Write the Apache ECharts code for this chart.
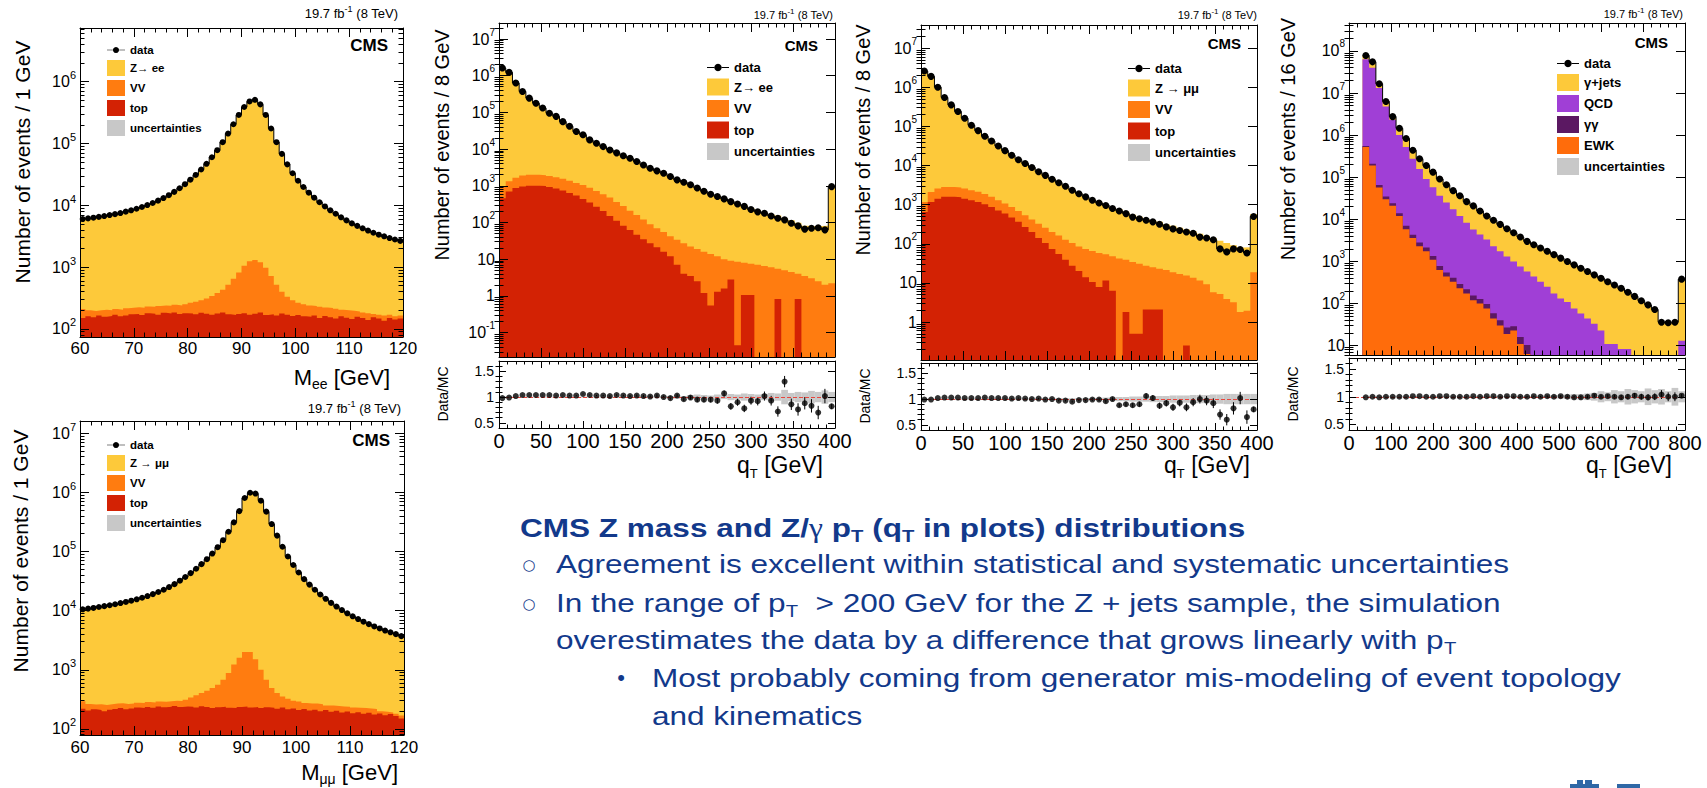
<!DOCTYPE html>
<html>
<head>
<meta charset="utf-8">
<title>CMS Z mass and Z/γ pT distributions</title>
<script src="https://cdn.jsdelivr.net/npm/echarts@6.0.0/dist/echarts.min.js"></script>
<style>
html,body{margin:0;padding:0;background:#ffffff;overflow:hidden;}
#chart{width:1707px;height:788px;}
</style>
</head>
<body>
<div id="chart"></div>
<script>
// ================= DATA =================
// Binning
const MASS_LOW = 60, MASS_W = 1;     // M_ll plots: 60 bins of 1 GeV
const QT_LOW = 0, QT_W = 8;          // q_T (Z) plots: 50 bins of 8 GeV
const QG_LOW = 32, QG_W = 16;        // q_T (photon) plot: 48 bins of 16 GeV

// Tick labels (powers of ten shown on the log axes) and ratio ticks
const yExpMee = [2,3,4,5,6];
const yExpMmm = [2,3,4,5,6,7];
const yExpQee = [-1,0,1,2,3,4,5,6,7];
const yExpQmm = [0,1,2,3,4,5,6,7];
const yExpQg  = [1,2,3,4,5,6,7,8];
const ratioTicks = [0.5, 1, 1.5];
const ratioMinorTicks = [0.6,0.7,0.8,0.9,1.1,1.2,1.3,1.4,1.6];

// --- M_ee ---
const mee_data = [6000,6150,6300,6500,6700,6950,7200,7500,7900,8300,
 8800,9400,10100,10900,11900,13100,14600,16500,18900,22000,
 26000,31000,38000,47000,60000,78000,105000,145000,205000,290000,
 390000,480000,510000,430000,290000,175000,105000,68000,46000,33000,
 25000,19800,16000,13300,11200,9600,8300,7300,6400,5700,
 5100,4650,4250,3900,3600,3350,3150,2950,2800,2650];
const mee_zee = [5800,5950,6100,6300,6500,6750,7000,7300,7700,8100,
 8600,9200,9900,10700,11700,12900,14400,16300,18700,21800,
 25800,30800,37700,46800,59800,77500,104500,145000,206000,292000,
 395000,488000,515000,432000,292000,176000,106000,68500,46300,33000,
 24900,19700,15900,13200,11100,9500,8200,7200,6300,5600,
 5000,4550,4150,3800,3500,3250,3050,2850,2700,2550];
const mee_vv = [60,40,40,35,47,38,40,45,50,48,
 50,52,50,52,65,58,60,60,65,70,
 87,103,108,134,170,202,245,348,482,645,
 870,1080,1124,1015,812,548,355,222,160,128,
 97,90,82,70,78,60,63,64,45,48,
 51,34,35,40,20,22,30,20,18,17];
const mee_top = [150,160,155,165,158,162,170,160,165,172,
 175,168,180,176,170,182,178,185,175,180,
 178,172,182,176,170,178,185,172,168,175,
 180,170,176,185,168,172,165,178,170,162,
 168,160,158,165,150,162,155,148,160,152,
 145,158,150,140,155,148,135,150,142,148];

// --- M_mumu ---
const mmm_data = [10500,10800,11100,11500,11900,12300,12800,13400,14000,14700,
 15500,16500,17600,19000,20600,22500,25000,28000,32000,37000,
 43000,51000,61000,74000,92000,118000,155000,215000,310000,480000,
 800000,980000,950000,720000,470000,290000,185000,120000,82000,59000,
 44000,34000,27500,22500,18700,15800,13500,11700,10200,9000,
 8000,7200,6500,5900,5400,5000,4600,4300,4000,3700];
const mmm_zmm = [10200,10500,10800,11200,11600,12000,12500,13100,13700,14400,
 15200,16200,17300,18700,20300,22200,24700,27700,31700,36700,
 42700,50700,60700,73700,91500,117500,154500,214000,309000,478000,
 795000,975000,945000,718000,469000,289000,184500,119500,81700,58700,
 43700,33700,27200,22200,18400,15550,13250,11450,9950,8750,
 7750,6950,6250,5650,5150,4750,4350,4050,3750,3450];
const mmm_vv = [75,60,43,52,55,50,50,47,50,48,
 48,50,50,52,50,56,57,55,63,70,
 102,140,163,205,265,328,442,652,1005,1365,
 1760,1770,1264,775,448,262,185,125,110,78,
 80,57,65,56,62,42,53,43,50,40,
 45,36,46,34,43,18,25,12,15,18];
const mmm_top = [220,205,215,210,200,212,218,225,215,222,
 230,225,235,228,240,232,238,245,235,240,
 238,230,242,235,225,232,238,228,225,235,
 240,230,236,225,232,228,220,230,215,222,
 210,218,205,212,200,208,195,202,190,198,
 185,192,180,188,175,182,170,178,165,150];

// --- q_T, Z -> ee ---
const qee_data = [1620000,1230000,630000,372000,245000,178000,132000,95000,78000,56000,
 42000,30000,24500,17800,14500,11700,9500,7900,6600,5600,
 4600,3700,3000,2550,2200,1800,1450,1250,1070,870,
 710,590,510,440,370,320,275,225,195,178,
 150,130,118,95,81,66,70,72,63,950];
const qee_zee = [1600000,1220000,628000,370000,243000,176000,130000,93000,76000,54500,
 40500,29000,23500,17000,13900,11300,9200,7500,6400,5400,
 4450,3600,2950,2500,2150,1780,1430,1260,1060,870,
 710,590,520,440,380,325,290,240,205,180,
 160,150,125,110,95,78,76,78,80,1000];
const qee_vv = [490,620,780,950,1000,1000,970,930,860,810,
 740,660,610,530,450,385,330,248,198,148,
 114,85,63,49,39,30,27,23,18.5,16.5,
 14.8,13.4,10.7,8.4,6.2,8.5,6.95,6.45,7,6.5,
 6,4.7,5,4.5,3.2,3.5,3,2.5,2,2.2];
const qee_top = [460,700,870,950,1000,1000,980,920,840,740,
 640,540,440,350,270,205,150,112,82,62,
 46,35,27,21,16,12,7,4,3.5,2.5,
 1.2,0.55,1.3,1.6,2.8,0.045,1.05,1.05,0,0,
 0,0.82,0,0,0.82,0,0,0,0,0];
const qee_ratio = [0.98,0.99,1.02,1.04,1.04,1.04,1.04,1.04,1.03,1.04,
 1.03,1.03,1.06,1.04,1.03,1.03,1.02,1.04,1.03,1.02,
 1.03,1.02,1.01,1.03,1.0,0.98,1.03,0.96,0.99,0.95,
 0.95,0.95,0.93,1.07,0.82,0.9,0.78,0.93,0.92,1.02,
 0.93,0.72,1.3,0.86,0.76,0.88,0.83,0.7,1.02,0.82];
const qee_ratioErr = [0.003,0.003,0.003,0.004,0.004,0.004,0.005,0.005,0.005,0.006,
 0.007,0.008,0.009,0.01,0.011,0.012,0.013,0.014,0.016,0.018,
 0.02,0.022,0.024,0.026,0.028,0.03,0.033,0.036,0.04,0.044,
 0.048,0.052,0.056,0.06,0.064,0.068,0.072,0.077,0.082,0.088,
 0.094,0.1,0.11,0.11,0.12,0.12,0.13,0.13,0.14,0.05];
const qee_unc = [0.01,0.01,0.01,0.01,0.01,0.01,0.01,0.01,0.01,0.01,
 0.01,0.01,0.01,0.01,0.01,0.01,0.01,0.01,0.01,0.01,
 0.015,0.015,0.015,0.015,0.015,0.02,0.03,0.02,0.04,0.05,
 0.04,0.03,0.05,0.04,0.06,0.05,0.07,0.06,0.05,0.06,
 0.08,0.07,0.14,0.08,0.1,0.09,0.12,0.1,0.13,0.1];

// --- q_T, Z -> mumu ---
const qmm_data = [2600000,1900000,1000000,550000,355000,240000,162000,107000,78000,56000,
 42500,31600,24000,18200,14100,11200,8900,6900,5600,4470,
 3630,2950,2340,1900,1580,1290,1100,955,795,690,
 590,480,437,400,363,316,270,240,219,200,
 186,148,141,126,74,62,74,71,58,500];
const qmm_zmm = [2600000,1900000,1000000,545000,350000,236000,159000,104000,76000,54000,
 41000,30500,23000,17500,13700,10900,8800,6800,5600,4500,
 3700,3000,2350,1900,1560,1280,1100,960,800,720,
 620,520,460,400,370,340,295,270,240,215,
 195,170,150,135,115,100,88,78,80,560];
const qmm_vv = [525,920,1160,1240,1240,1200,1160,1050,970,840,
 710,580,480,400,327,267,217,183,152,126,
 107,87,77.5,65,60,54.5,50.2,42.5,41.7,42,
 37.2,33.5,30.5,25.4,22.9,20.9,21.4,18.6,17,15.25,
 13.5,11.5,9.3,5.8,5.2,3.9,3.2,1.8,1.95,18.6];
const qmm_top = [645,1170,1410,1580,1580,1550,1410,1290,1170,1020,
 870,710,590,470,363,270,200,141,105,74,
 55,39,27.5,20,14,10.5,7.8,11.5,6.3,0,
 1.8,0.5,0.5,2.1,2.1,2.1,0,0,0,0.25,
 0,0,0,0,0,0,0,0,0,0];
const qmm_ratio = [0.99,0.99,1.02,1.03,1.03,1.03,1.02,1.02,1.02,1.03,
 1.02,1.02,1.02,1.01,1.02,1.01,1.0,1.01,0.99,1.0,
 0.97,0.97,0.95,0.98,0.98,0.99,0.99,0.96,1.0,0.88,
 0.9,0.88,0.9,1.06,1.02,0.87,0.92,0.84,0.93,0.84,
 0.94,1.0,0.97,0.92,0.7,0.6,0.82,1.02,0.65,0.8];
const qmm_ratioErr = [0.002,0.002,0.002,0.003,0.003,0.003,0.004,0.004,0.004,0.005,
 0.006,0.006,0.007,0.008,0.009,0.01,0.011,0.012,0.013,0.015,
 0.016,0.018,0.02,0.022,0.024,0.026,0.028,0.03,0.033,0.036,
 0.04,0.044,0.048,0.052,0.056,0.06,0.064,0.068,0.072,0.076,
 0.08,0.085,0.09,0.095,0.1,0.11,0.12,0.12,0.13,0.05];
const qmm_unc = [0.01,0.01,0.01,0.01,0.01,0.01,0.01,0.01,0.01,0.01,
 0.01,0.01,0.01,0.01,0.01,0.01,0.01,0.01,0.01,0.01,
 0.015,0.015,0.015,0.015,0.015,0.02,0.02,0.03,0.03,0.04,
 0.04,0.05,0.05,0.05,0.06,0.06,0.06,0.07,0.07,0.07,
 0.08,0.08,0.08,0.09,0.09,0.1,0.1,0.1,0.1,0.1];

// --- q_T, photon + jets ---
const qg_data = [78000000,55000000,16600000,6300000,2750000,1450000,830000,437000,275000,190000,
 132000,91000,66000,48000,36300,26300,20900,15800,12000,9550,
 7600,6000,4800,3800,3000,2500,2090,1740,1450,1200,
 1000,830,690,575,480,400,330,275,230,186,
 148,117,93,72,36,35,36,380];
const qg_gjets = [15000000,15000000,3400000,1500000,450000,450000,305000,162000,117000,99000,
 74500,54700,40900,30600,24300,18000,15150,11430,8700,7260,
 5860,4680,3800,3040,2425,2063,1759,1489,1276,1068,
 890,754,632,531,447,377,319,264,222,178,
 144,114,89.5,69,33.5,33,34,367];
const qg_qcd = [62400000,39800000,13100000,4770000,2280000,986000,518000,271000,155000,88900,
 56200,35500,24600,17000,11700,8080,5600,4240,3200,2230,
 1700,1290,970,745,565,432,328,248,172,131,
 109,76,58,44,33,23,11,11,8.3,8.3,
 4,3,3.5,3,2.5,2,2,13];
const qg_gg = [30000,20000,8000,5000,3000,2000,1200,700,500,400,
 250,150,110,80,60,45,35,28,22,15,
 10,8,6,5,4,3,2.5,2,1.5,1,
 0,0,0,0,0,0,0,0,0,0,
 0,0,0,0,0,0,0,0];
const qg_ewk = [525000,190000,57000,30000,21000,12000,5800,3600,2300,1740,
 1100,630,440,330,230,174,120,100,76,44,
 30,19,23,11,6.3,2,1,0.5,0,0,
 0,0,0,0,0,0,0,0,0,0,
 0,0,0,0,0,0,0,0];
const qg_ratio = [0.99,1.0,0.99,1.0,1.0,1.0,1.0,1.01,1.01,1.0,
 1.0,1.01,1.01,1.0,1.0,1.0,1.01,1.0,1.01,1.01,
 1.0,1.01,1.01,1.0,1.0,1.01,1.0,1.01,1.0,1.01,
 1.0,0.99,0.99,1.0,1.02,1.0,1.01,1.0,0.99,1.0,
 1.02,1.0,0.99,1.0,1.04,1.0,1.0,1.02];
const qg_ratioErr = [0.001,0.001,0.001,0.001,0.001,0.001,0.001,0.002,0.002,0.002,
 0.002,0.003,0.003,0.003,0.004,0.004,0.005,0.005,0.006,0.006,
 0.007,0.008,0.009,0.01,0.011,0.012,0.013,0.014,0.016,0.018,
 0.02,0.022,0.024,0.026,0.028,0.03,0.033,0.036,0.04,0.044,
 0.048,0.052,0.056,0.06,0.08,0.08,0.08,0.03];
const qg_unc = [0.005,0.005,0.005,0.005,0.005,0.005,0.005,0.005,0.005,0.005,
 0.005,0.005,0.005,0.005,0.005,0.005,0.005,0.005,0.005,0.005,
 0.01,0.01,0.01,0.01,0.01,0.015,0.02,0.02,0.03,0.03,
 0.04,0.05,0.05,0.06,0.07,0.1,0.08,0.12,0.1,0.14,
 0.12,0.1,0.15,0.12,0.14,0.1,0.16,0.1];

// ================= STYLE =================
const FONT = '"Liberation Sans", Arial, Helvetica, sans-serif';
const SERIF = '"Liberation Serif", "DejaVu Serif", serif';
const COL = {zll:'#fdc93a', vv:'#ff7c10', top:'#d32204', unc:'#c8c8c8', qcd:'#a03fd6',
             gg:'#5b1862', ewk:'#ff6c0b', text:'#12398b', ratioLine:'#e8473e'};
const DATA_ICON = 'path://M0,9.6L6.5,9.6L6.5,10.4L0,10.4Z M13.5,9.6L20,9.6L20,10.4L13.5,10.4Z M10,6.6A3.4,3.4,0,1,1,9.99,6.6Z';

// ================= HELPERS =================
function sumArrays(...arrs){ return arrs[0].map((_, i) => arrs.reduce((s, a) => s + a[i], 0)); }
function stepPoints(x0, w, vals, floor){
  const pts = vals.map((v, i) => [x0 + i * w, v > floor ? v : floor]);
  pts.push([x0 + vals.length * w, pts[pts.length - 1][1]]);
  return pts;
}
function centers(x0, w, n){ const a = []; for (let i = 0; i < n; i++) a.push(x0 + (i + 0.5) * w); return a; }
function powVals(exps){ return exps.map(n => Math.pow(10, n)); }
function logMinors(exps){
  const out = [];
  for (let n = exps[0] - 1; n <= exps[exps.length - 1]; n++) for (let k = 2; k <= 9; k++) out.push(k * Math.pow(10, n));
  return out;
}
function powLabel(v){
  const n = Math.round(Math.log10(v));
  if (n === 0) return '1';
  if (n === 1) return '10';
  return '10{sup|' + n + '}';
}

const grids = [], xAxes = [], yAxes = [], series = [], legends = [], graphics = [];
const LS = {color:'#000', width:1};

function addPanel(o){
  const gi = grids.length;
  grids.push({left:o.left, top:o.top, width:o.width, height:o.height, show:false, containLabel:false, outerBoundsMode:'none'});
  const xCommon = {gridIndex:gi, type:'value', min:o.xMin, max:o.xMax, interval:o.xInterval, z:10, silent:true,
    axisLine:{show:true, onZero:false, lineStyle:LS}, splitLine:{show:false}, minorSplitLine:{show:false},
    axisTick:{show:true, inside:true, length:o.tick, lineStyle:LS},
    minorTick:{show:true, splitNumber:o.xMinor, length:o.tick * 0.5, lineStyle:LS}};
  const xi = xAxes.length;
  xAxes.push(Object.assign({}, xCommon, {position:'bottom',
    axisLabel: o.xLabel ? {show:true, color:'#000', fontFamily:FONT, fontSize:o.xLabel, margin:o.xMargin,
      showMinLabel:true, showMaxLabel:true, hideOverlap:false} : {show:false}}));
  xAxes.push(Object.assign({}, xCommon, {position:'top', axisLabel:{show:false}}));
  const yCommon = {gridIndex:gi, type:o.yType, min:o.yMin, max:o.yMax, z:10, silent:true,
    splitLine:{show:false}, minorTick:{show:false}, minorSplitLine:{show:false}};
  if (o.yType === 'log') yCommon.logBase = 10;
  const yi = yAxes.length;
  const lab = {show:true, customValues:o.yTicks, color:'#000', fontFamily:FONT, fontSize:o.yLabel, margin:o.yMargin,
    showMinLabel:true, showMaxLabel:true, hideOverlap:false};
  if (o.yFmt) { lab.formatter = o.yFmt; lab.lineHeight = o.yLabel + 8;
    lab.rich = {sup:{fontSize:o.sup, lineHeight:o.sup, verticalAlign:'top', color:'#000', fontFamily:FONT}}; }
  yAxes.push(Object.assign({}, yCommon, {position:'left', axisLine:{show:true, onZero:false, lineStyle:LS},
    axisTick:{show:true, inside:true, length:o.tick, lineStyle:LS, customValues:o.yTicks}, axisLabel:lab}));
  yAxes.push(Object.assign({}, yCommon, {position:'left', axisLine:{show:false},
    axisTick:{show:true, inside:true, length:o.tick * 0.5, lineStyle:LS, customValues:o.yMinor}, axisLabel:{show:false}}));
  yAxes.push(Object.assign({}, yCommon, {position:'right', axisLine:{show:true, onZero:false, lineStyle:LS},
    axisTick:{show:true, inside:true, length:o.tick, lineStyle:LS, customValues:o.yTicks}, axisLabel:{show:false}}));
  yAxes.push(Object.assign({}, yCommon, {position:'right', axisLine:{show:false},
    axisTick:{show:true, inside:true, length:o.tick * 0.5, lineStyle:LS, customValues:o.yMinor}, axisLabel:{show:false}}));
  return {gi, xi, yi, floor:o.yMin / 100};
}

function areaSeries(name, pts, color, P){
  return {type:'line', name, xAxisIndex:P.xi, yAxisIndex:P.yi, data:pts, step:'end',
    symbol:'none', showSymbol:false, lineStyle:{width:0, color}, itemStyle:{color},
    areaStyle:{color, opacity:1, origin:'start'}, silent:true, animation:false, clip:true, z:2};
}
function dataSeries(xs, ys, P, size){
  return {type:'line', name:'data', xAxisIndex:P.xi, yAxisIndex:P.yi, data:xs.map((x, i) => [x, ys[i]]),
    step:'middle', symbol:'circle', symbolSize:size, showSymbol:true, itemStyle:{color:'#000'},
    lineStyle:{color:'#000', width:1}, silent:true, animation:false, clip:true, z:5};
}
function rectItem(params, api){
  const a = api.coord([api.value(0), api.value(3)]);
  const b = api.coord([api.value(1), api.value(2)]);
  return {type:'rect', shape:{x:a[0], y:a[1], width:b[0] - a[0], height:b[1] - a[1]}, style:{fill:COL.unc}};
}
function errItem(params, api){
  const a = api.coord([api.value(0), api.value(1)]);
  const b = api.coord([api.value(0), api.value(2)]);
  return {type:'line', shape:{x1:a[0], y1:a[1], x2:b[0], y2:b[1]}, style:{stroke:'#000', lineWidth:1}};
}
function ratioSeries(R, x0, w, ratio, err, unc){
  series.push({type:'custom', name:'uncertainties', xAxisIndex:R.xi, yAxisIndex:R.yi,
    data:unc.map((u, i) => [x0 + i * w, x0 + (i + 1) * w, 1 - u, 1 + u]), encode:{x:[0, 1], y:[2, 3]},
    renderItem:rectItem, itemStyle:{color:COL.unc}, silent:true, animation:false, clip:true, z:2});
  series.push({type:'custom', name:'ratioErr', xAxisIndex:R.xi, yAxisIndex:R.yi,
    data:ratio.map((r, i) => [x0 + (i + 0.5) * w, r - err[i], r + err[i]]), encode:{x:0, y:[1, 2]},
    renderItem:errItem, silent:true, animation:false, clip:true, z:4});
  series.push({type:'scatter', name:'ratio', xAxisIndex:R.xi, yAxisIndex:R.yi,
    data:ratio.map((r, i) => [x0 + (i + 0.5) * w, r]), symbolSize:6, itemStyle:{color:'#000'},
    silent:true, animation:false, clip:true, z:5,
    markLine:{silent:true, symbol:'none', animation:false, label:{show:false},
      lineStyle:{color:COL.ratioLine, type:'dashed', width:1}, data:[{yAxis:1}]}});
}
function legendAt(left, top, names, fs, iw, ih, gap){
  return {show:true, orient:'vertical', left, top, padding:0, itemGap:gap, itemWidth:iw, itemHeight:ih,
    selectedMode:false, textStyle:{fontFamily:FONT, fontWeight:'bold', fontSize:fs, color:'#000'},
    data:names.map(n => n === 'data' ? {name:n, icon:DATA_ICON} : {name:n, icon:'rect'})};
}
function txt(x, y, text, o){
  const style = {text, fill:o.color || '#000', fontFamily:o.family || FONT, fontSize:o.size,
    fontWeight:o.weight || 'normal', align:o.align || 'left', verticalAlign:o.valign || 'middle'};
  if (o.rich) style.rich = o.rich;
  if (o.lh) style.lineHeight = o.lh;
  return {type:'text', x, y, rotation:o.rot || 0, scaleX:o.sx || 1, scaleY:1, silent:true, z:100, style};
}
function subRich(size, sub, color, weight){
  return {m:{fontSize:size, lineHeight:size + 6, verticalAlign:'middle', fontFamily:FONT, fill:color, color, fontWeight:weight},
          s:{fontSize:sub, lineHeight:sub, verticalAlign:'bottom', fontFamily:FONT, fill:color, color, fontWeight:weight},
          g:{fontSize:size, lineHeight:size + 6, verticalAlign:'middle', fontFamily:SERIF, fill:color, color, fontWeight:'normal'}};
}
function supRich(size, sup){
  return {m:{fontSize:size, lineHeight:size + 4, verticalAlign:'middle', fontFamily:FONT, fill:'#000'},
          u:{fontSize:sup, lineHeight:sup, verticalAlign:'top', fontFamily:FONT, fill:'#000'}};
}

// ================= PANEL 1 : M_ee =================
const P1 = addPanel({left:80, top:28, width:323, height:309, xMin:60, xMax:120, xInterval:10, xMinor:5,
  xLabel:17, xMargin:3, yType:'log', yMin:74, yMax:7.4e6, yTicks:powVals(yExpMee), yMinor:logMinors(yExpMee),
  yFmt:powLabel, yLabel:16, sup:11, yMargin:4, tick:9});
series.push(areaSeries('Z\u2192 ee', stepPoints(MASS_LOW, MASS_W, sumArrays(mee_zee, mee_vv, mee_top), P1.floor), COL.zll, P1));
series.push(areaSeries('VV', stepPoints(MASS_LOW, MASS_W, sumArrays(mee_vv, mee_top), P1.floor), COL.vv, P1));
series.push(areaSeries('top', stepPoints(MASS_LOW, MASS_W, mee_top, P1.floor), COL.top, P1));
series.push(dataSeries(centers(MASS_LOW, MASS_W, mee_data.length), mee_data, P1, 6));
legends.push(legendAt(107, 44, ['data', 'Z\u2192 ee', 'VV', 'top', 'uncertainties'], 11.5, 18, 16, 4));

// ================= PANEL 2 : M_mumu =================
const P2 = addPanel({left:80, top:421, width:324, height:314, xMin:60, xMax:120, xInterval:10, xMinor:5,
  xLabel:17, xMargin:4, yType:'log', yMin:79, yMax:1.6e7, yTicks:powVals(yExpMmm), yMinor:logMinors(yExpMmm),
  yFmt:powLabel, yLabel:16, sup:11, yMargin:4, tick:9});
series.push(areaSeries('Z \u2192 \u03bc\u03bc', stepPoints(MASS_LOW, MASS_W, sumArrays(mmm_zmm, mmm_vv, mmm_top), P2.floor), COL.zll, P2));
series.push(areaSeries('VV', stepPoints(MASS_LOW, MASS_W, sumArrays(mmm_vv, mmm_top), P2.floor), COL.vv, P2));
series.push(areaSeries('top', stepPoints(MASS_LOW, MASS_W, mmm_top, P2.floor), COL.top, P2));
series.push(dataSeries(centers(MASS_LOW, MASS_W, mmm_data.length), mmm_data, P2, 6));
legends.push(legendAt(107, 439, ['data', 'Z \u2192 \u03bc\u03bc', 'VV', 'top', 'uncertainties'], 11.5, 18, 16, 4));

// ================= PANEL 3 : qT ee =================
const P3 = addPanel({left:499, top:23, width:336, height:334, xMin:0, xMax:400, xInterval:50, xMinor:5,
  xLabel:0, yType:'log', yMin:0.0216, yMax:2.73e7, yTicks:powVals(yExpQee), yMinor:logMinors(yExpQee),
  yFmt:powLabel, yLabel:16, sup:10, yMargin:4, tick:9});
series.push(areaSeries('Z\u2192 ee', stepPoints(QT_LOW, QT_W, sumArrays(qee_zee, qee_vv, qee_top), P3.floor), COL.zll, P3));
series.push(areaSeries('VV', stepPoints(QT_LOW, QT_W, sumArrays(qee_vv, qee_top), P3.floor), COL.vv, P3));
series.push(areaSeries('top', stepPoints(QT_LOW, QT_W, qee_top, P3.floor), COL.top, P3));
series.push(dataSeries(centers(QT_LOW, QT_W, qee_data.length), qee_data, P3, 7));
const R3 = addPanel({left:499, top:361, width:336, height:67, xMin:0, xMax:400, xInterval:50, xMinor:5,
  xLabel:20, xMargin:3, yType:'value', yMin:0.4, yMax:1.7, yTicks:ratioTicks, yMinor:ratioMinorTicks,
  yLabel:14, yMargin:5, tick:7});
ratioSeries(R3, QT_LOW, QT_W, qee_ratio, qee_ratioErr, qee_unc);
legends.push(legendAt(707, 61, ['data', 'Z\u2192 ee', 'VV', 'top', 'uncertainties'], 13, 22, 17, 4.5));

// ================= PANEL 4 : qT mumu =================
const P4 = addPanel({left:921, top:25, width:336, height:335, xMin:0, xMax:400, xInterval:50, xMinor:5,
  xLabel:0, yType:'log', yMin:0.107, yMax:3.9e7, yTicks:powVals(yExpQmm), yMinor:logMinors(yExpQmm),
  yFmt:powLabel, yLabel:16, sup:10, yMargin:4, tick:9});
series.push(areaSeries('Z \u2192 \u03bc\u03bc', stepPoints(QT_LOW, QT_W, sumArrays(qmm_zmm, qmm_vv, qmm_top), P4.floor), COL.zll, P4));
series.push(areaSeries('VV', stepPoints(QT_LOW, QT_W, sumArrays(qmm_vv, qmm_top), P4.floor), COL.vv, P4));
series.push(areaSeries('top', stepPoints(QT_LOW, QT_W, qmm_top, P4.floor), COL.top, P4));
series.push(dataSeries(centers(QT_LOW, QT_W, qmm_data.length), qmm_data, P4, 7));
const R4 = addPanel({left:921, top:363, width:336, height:67, xMin:0, xMax:400, xInterval:50, xMinor:5,
  xLabel:20, xMargin:3, yType:'value', yMin:0.4, yMax:1.7, yTicks:ratioTicks, yMinor:ratioMinorTicks,
  yLabel:14, yMargin:5, tick:7});
ratioSeries(R4, QT_LOW, QT_W, qmm_ratio, qmm_ratioErr, qmm_unc);
legends.push(legendAt(1128, 62, ['data', 'Z \u2192 \u03bc\u03bc', 'VV', 'top', 'uncertainties'], 13, 22, 17, 4.5));

// ================= PANEL 5 : qT gamma =================
const P5 = addPanel({left:1349, top:23, width:336, height:332, xMin:0, xMax:800, xInterval:100, xMinor:5,
  xLabel:0, yType:'log', yMin:6.0, yMax:4.6e8, yTicks:powVals(yExpQg), yMinor:logMinors(yExpQg),
  yFmt:powLabel, yLabel:16, sup:10, yMargin:4, tick:9});
series.push(areaSeries('\u03b3+jets', stepPoints(QG_LOW, QG_W, sumArrays(qg_gjets, qg_qcd, qg_gg, qg_ewk), P5.floor), COL.zll, P5));
series.push(areaSeries('QCD', stepPoints(QG_LOW, QG_W, sumArrays(qg_qcd, qg_gg, qg_ewk), P5.floor), COL.qcd, P5));
series.push(areaSeries('\u03b3\u03b3', stepPoints(QG_LOW, QG_W, sumArrays(qg_gg, qg_ewk), P5.floor), COL.gg, P5));
series.push(areaSeries('EWK', stepPoints(QG_LOW, QG_W, qg_ewk, P5.floor), COL.ewk, P5));
series.push(dataSeries(centers(QG_LOW, QG_W, qg_data.length), qg_data, P5, 7));
const R5 = addPanel({left:1349, top:358, width:336, height:72, xMin:0, xMax:800, xInterval:100, xMinor:5,
  xLabel:20, xMargin:3, yType:'value', yMin:0.4, yMax:1.7, yTicks:ratioTicks, yMinor:ratioMinorTicks,
  yLabel:14, yMargin:5, tick:7});
ratioSeries(R5, QG_LOW, QG_W, qg_ratio, qg_ratioErr, qg_unc);
legends.push(legendAt(1557, 57, ['data', '\u03b3+jets', 'QCD', '\u03b3\u03b3', 'EWK', 'uncertainties'], 13, 22, 17, 4));

// ================= TEXT (titles, labels, slide text) =================
const lumi = '{m|19.7 fb}{u|-1}{m| (8 TeV)}';
graphics.push(txt(398, 13, lumi, {size:13, align:'right', rich:supRich(13, 9)}));
graphics.push(txt(401, 408, lumi, {size:13, align:'right', rich:supRich(13, 9)}));
graphics.push(txt(833, 15, lumi, {size:11, align:'right', rich:supRich(11, 8)}));
graphics.push(txt(1257, 15, lumi, {size:11, align:'right', rich:supRich(11, 8)}));
graphics.push(txt(1683, 14, lumi, {size:11, align:'right', rich:supRich(11, 8)}));

graphics.push(txt(388, 45, 'CMS', {size:17, weight:'bold', align:'right'}));
graphics.push(txt(390, 440, 'CMS', {size:17, weight:'bold', align:'right'}));
graphics.push(txt(818, 45, 'CMS', {size:15, weight:'bold', align:'right'}));
graphics.push(txt(1241, 43, 'CMS', {size:15, weight:'bold', align:'right'}));
graphics.push(txt(1668, 42, 'CMS', {size:15, weight:'bold', align:'right'}));

const ROT = Math.PI / 2;
graphics.push(txt(22, 162, 'Number of events / 1 GeV', {size:21, align:'center', rot:ROT}));
graphics.push(txt(20, 551, 'Number of events / 1 GeV', {size:21, align:'center', rot:ROT}));
graphics.push(txt(442, 145, 'Number of events / 8 GeV', {size:20, align:'center', rot:ROT}));
graphics.push(txt(863, 140, 'Number of events / 8 GeV', {size:20, align:'center', rot:ROT}));
graphics.push(txt(1288, 139, 'Number of events / 16 GeV', {size:20, align:'center', rot:ROT}));
graphics.push(txt(443, 394, 'Data/MC', {size:14, align:'center', rot:ROT}));
graphics.push(txt(865, 396, 'Data/MC', {size:14, align:'center', rot:ROT}));
graphics.push(txt(1293, 394, 'Data/MC', {size:14, align:'center', rot:ROT}));

graphics.push(txt(390, 377, '{m|M}{s|ee}{m| [GeV]}', {size:22, align:'right', rich:subRich(22, 14, '#000', 'normal')}));
graphics.push(txt(398, 772, '{m|M}{s|\u03bc\u03bc}{m| [GeV]}', {size:22, align:'right', rich:subRich(22, 14, '#000', 'normal')}));
graphics.push(txt(823, 465, '{m|q}{s|T}{m| [GeV]}', {size:23, align:'right', rich:subRich(23, 13, '#000', 'normal')}));
graphics.push(txt(1250, 465, '{m|q}{s|T}{m| [GeV]}', {size:23, align:'right', rich:subRich(23, 13, '#000', 'normal')}));
graphics.push(txt(1672, 465, '{m|q}{s|T}{m| [GeV]}', {size:23, align:'right', rich:subRich(23, 13, '#000', 'normal')}));

// slide text block
const SX = 1.19;
const FS = 26.5;
const bodyRich = subRich(FS, 17, COL.text, 'normal');
const boldRich = subRich(FS, 17, COL.text, 'bold');
graphics.push(txt(520, 528, '{m|CMS Z mass and Z/}{g|\u03b3}{m| p}{s|T}{m| (q}{s|T}{m| in plots) distributions}',
  {size:FS, weight:'bold', color:COL.text, rich:boldRich, sx:SX}));
graphics.push(txt(529, 565, '\u25cb', {size:15, family:'"DejaVu Sans", sans-serif', color:COL.text, align:'center'}));
graphics.push(txt(556, 564, '{m|Agreement is excellent within statistical and systematic uncertainties}',
  {size:FS, color:COL.text, rich:bodyRich, sx:SX}));
graphics.push(txt(529, 604, '\u25cb', {size:15, family:'"DejaVu Sans", sans-serif', color:COL.text, align:'center'}));
graphics.push(txt(556, 603, '{m|In the range of p}{s|T}{m|  > 200 GeV for the Z + jets sample, the simulation}',
  {size:FS, color:COL.text, rich:bodyRich, sx:SX}));
graphics.push(txt(556, 640, '{m|overestimates the data by a difference that grows linearly with p}{s|T}',
  {size:FS, color:COL.text, rich:bodyRich, sx:SX}));
graphics.push(txt(621, 677, '\u2022', {size:22, color:COL.text, align:'center'}));
graphics.push(txt(652, 678, '{m|Most probably coming from generator mis-modeling of event topology}',
  {size:FS, color:COL.text, rich:bodyRich, sx:SX}));
graphics.push(txt(652, 716, '{m|and kinematics}', {size:FS, color:COL.text, rich:bodyRich, sx:SX}));

// small logo fragment at the bottom right edge
graphics.push({type:'rect', silent:true, shape:{x:1570, y:784, width:29, height:4}, style:{fill:'#2f68a6'}});
graphics.push({type:'rect', silent:true, shape:{x:1577, y:780, width:6, height:5}, style:{fill:'#2f68a6'}});
graphics.push({type:'rect', silent:true, shape:{x:1585, y:780, width:7, height:5}, style:{fill:'#2f68a6'}});
graphics.push({type:'rect', silent:true, shape:{x:1617, y:784, width:23, height:4}, style:{fill:'#2f68a6'}});

// ================= CHART =================
const chart = echarts.init(document.getElementById('chart'), null, {renderer:'svg', width:1707, height:788});
chart.setOption({
  animation:false,
  backgroundColor:'#ffffff',
  textStyle:{fontFamily:FONT},
  grid:grids, xAxis:xAxes, yAxis:yAxes, series, legend:legends,
  graphic:{elements:graphics}
});
</script>
</body>
</html>
